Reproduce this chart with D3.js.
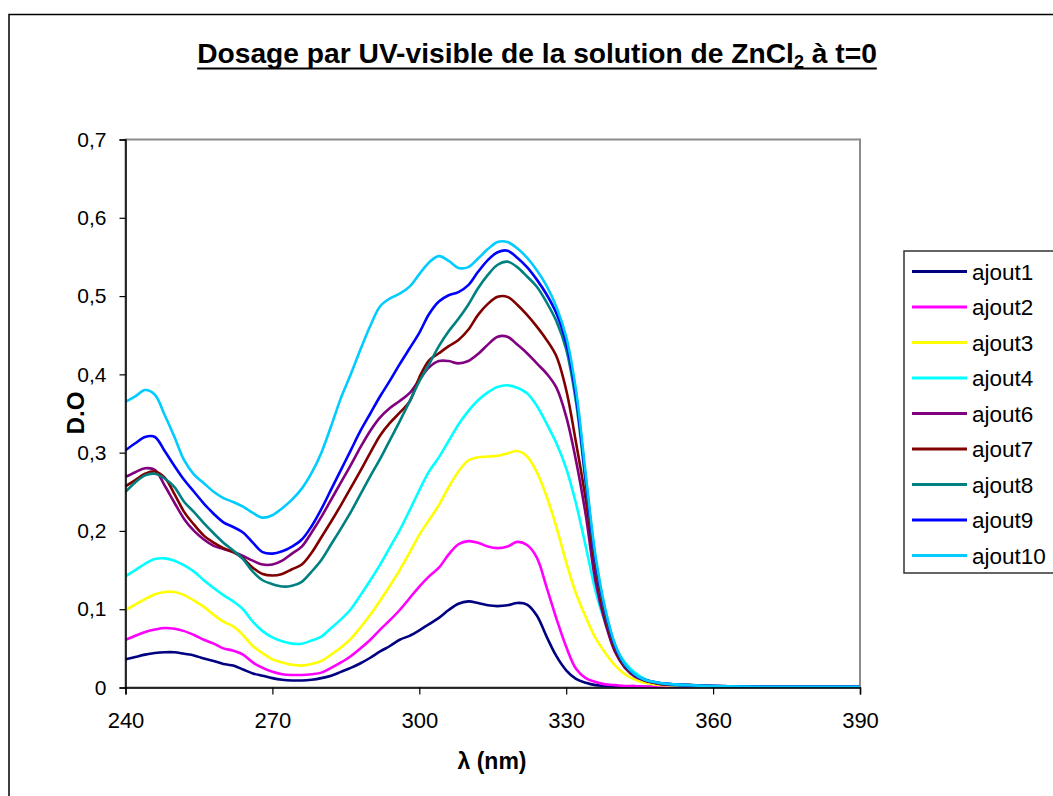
<!DOCTYPE html>
<html>
<head>
<meta charset="utf-8">
<script src="https://cdn.jsdelivr.net/npm/d3@7"></script>
<style>
  html, body { margin: 0; padding: 0; background: #fff; }
  svg { display: block; }
  text { font-family: "Liberation Sans", Arial, sans-serif; }
</style>
</head>
<body>
<svg id="chart" width="1053" height="796"></svg>
<script>
// Wavelengths (nm)
const wavelengths = [240,242,244,246,248,250,252,254,256,258,
  260,262,264,266,268,270,272,274,276,278,
  280,282,284,286,288,290,292,294,296,298,
  300,302,304,306,308,310,312,314,316,318,
  320,322,324,326,328,330,332,334,336,338,
  340,342,344,346,348,350,355,360,370,380,390];

const ajout1 = [.036,.039,.042,.044,.045,.045,.043,.041,.037,.034,
  .030,.028,.023,.018,.015,.012,.010,.009,.009,.010,
  .012,.015,.020,.025,.031,.038,.046,.053,.061,.066,
  .073,.081,.089,.099,.107,.110,.108,.105,.104,.105,
  .108,.106,.092,.065,.040,.022,.011,.006,.003,.002,
  .001,.001,.001,.001,.001,.001,.001,.001,.001,.001,.001];

const ajout2 = [.061,.066,.071,.074,.076,.075,.072,.067,.061,.056,
  .050,.047,.042,.032,.025,.020,.017,.016,.016,.017,
  .019,.025,.032,.040,.050,.061,.074,.086,.099,.114,
  .129,.142,.153,.170,.183,.187,.185,.180,.178,.180,
  .186,.182,.166,.128,.088,.052,.024,.012,.007,.004,
  .003,.002,.002,.001,.001,.001,.001,.001,.001,.001,.001];

const ajout3 = [.099,.106,.113,.119,.122,.122,.118,.111,.103,.093,
  .084,.078,.067,.053,.044,.036,.032,.029,.028,.030,
  .034,.042,.051,.062,.077,.093,.111,.130,.150,.172,
  .195,.214,.233,.256,.276,.290,.294,.295,.296,.299,
  .302,.295,.275,.244,.205,.160,.120,.090,.063,.044,
  .028,.017,.010,.006,.004,.003,.002,.001,.001,.001,.001];

const ajout4 = [.142,.150,.158,.164,.165,.162,.156,.148,.137,.127,
  .118,.110,.100,.084,.072,.064,.059,.056,.056,.060,
  .065,.076,.087,.100,.118,.137,.157,.179,.201,.226,
  .252,.276,.294,.315,.336,.353,.367,.377,.384,.386,
  .383,.376,.360,.337,.312,.280,.235,.180,.123,.082,
  .052,.032,.019,.011,.006,.004,.002,.001,.001,.001,.001];

const ajout6 = [.269,.275,.280,.278,.258,.236,.215,.200,.189,.181,
  .177,.173,.168,.162,.157,.157,.162,.171,.180,.198,
  .218,.240,.262,.284,.307,.328,.345,.357,.366,.376,
  .393,.409,.417,.417,.414,.417,.426,.438,.448,.448,
  .438,.427,.414,.401,.383,.346,.290,.220,.135,.082,
  .045,.025,.014,.009,.006,.004,.003,.002,.001,.001,.001];

const ajout7 = [.257,.265,.273,.276,.268,.247,.224,.208,.194,.185,
  .178,.173,.165,.153,.145,.143,.145,.151,.157,.172,
  .192,.212,.233,.255,.277,.300,.322,.338,.351,.365,
  .396,.418,.427,.436,.444,.457,.476,.490,.499,.499,
  .489,.476,.461,.444,.423,.380,.313,.240,.150,.088,
  .048,.026,.015,.009,.006,.004,.003,.002,.001,.001,.001];

const ajout8 = [.250,.262,.271,.273,.267,.256,.237,.224,.210,.197,
  .185,.175,.164,.148,.137,.132,.129,.130,.135,.148,
  .163,.183,.203,.224,.247,.270,.292,.316,.340,.365,
  .391,.413,.436,.455,.471,.489,.510,.527,.540,.544,
  .537,.525,.512,.492,.468,.432,.365,.260,.160,.094,
  .052,.028,.016,.010,.007,.005,.003,.002,.001,.001,.001];

const ajout9 = [.303,.312,.320,.320,.302,.283,.265,.250,.235,.222,
  .211,.205,.198,.185,.173,.171,.174,.180,.189,.206,
  .228,.253,.278,.303,.328,.350,.372,.392,.413,.433,
  .453,.477,.493,.501,.505,.514,.531,.546,.556,.558,
  .549,.537,.521,.502,.478,.440,.373,.266,.163,.097,
  .053,.029,.016,.010,.007,.005,.003,.002,.001,.001,.001];

const ajout10 = [.365,.372,.380,.374,.348,.320,.290,.272,.261,.250,
  .242,.237,.231,.223,.217,.220,.229,.240,.254,.274,
  .300,.334,.370,.400,.432,.462,.487,.497,.503,.512,
  .528,.543,.551,.545,.536,.537,.548,.560,.569,.569,
  .561,.549,.533,.513,.486,.448,.380,.272,.168,.100,
  .055,.030,.017,.010,.007,.005,.003,.002,.001,.001,.001];

const seriesNames = ["ajout1","ajout2","ajout3","ajout4","ajout6","ajout7","ajout8","ajout9","ajout10"];
const seriesValues = [ajout1, ajout2, ajout3, ajout4, ajout6, ajout7, ajout8, ajout9, ajout10];
const seriesColors = ["#000080","#FF00FF","#FFFF00","#00FFFF","#800080","#800000","#008080","#0000FF","#00CCFF"];

const xTicks = [240,270,300,330,360,390];
const yTicks = [0,0.1,0.2,0.3,0.4,0.5,0.6,0.7];

(function draw() {
const svg = d3.select("#chart");
const pLeft = 125.5, pRight = 860, pTop = 139.5, pBottom = 687.5;

const x = d3.scaleLinear().domain([240, 390]).range([pLeft, pRight]);
const y = d3.scaleLinear().domain([0, 0.7]).range([pBottom, pTop]);

// Outer frame
svg.append("path")
  .attr("d", `M9,800 L9,14.5 L1060,14.5`)
  .attr("fill", "none").attr("stroke", "#000").attr("stroke-width", 1.5);

// Plot area border (gray)
svg.append("rect")
  .attr("x", pLeft).attr("y", pTop)
  .attr("width", pRight - pLeft).attr("height", pBottom - pTop)
  .attr("fill", "none").attr("stroke", "#8c8c8c").attr("stroke-width", 2);

// Title
const title = svg.append("text")
  .attr("x", 537).attr("y", 63)
  .attr("text-anchor", "middle")
  .attr("font-weight", "bold")
  .attr("font-size", 28.2)
  .attr("fill", "#000");
title.append("tspan").text("Dosage par UV-visible de la solution de ZnCl");
title.append("tspan").attr("font-size", 18).attr("dy", 5).text("2");
title.append("tspan").attr("dy", -5).text(" à t=0");
const tb = title.node().getBBox();
svg.append("line")
  .attr("x1", tb.x).attr("x2", tb.x + tb.width)
  .attr("y1", 68.5).attr("y2", 68.5)
  .attr("stroke", "#000").attr("stroke-width", 2);

// Clip
svg.append("defs").append("clipPath").attr("id", "clip")
  .append("rect").attr("x", pLeft).attr("y", pTop - 2)
  .attr("width", pRight - pLeft).attr("height", pBottom - pTop + 2);

// Lines
const line = d3.line()
  .x((d, i) => x(wavelengths[i]))
  .y(d => y(d))
  .curve(d3.curveCatmullRom.alpha(0.5));

const g = svg.append("g").attr("clip-path", "url(#clip)");
seriesValues.forEach((vals, k) => {
  g.append("path")
    .datum(vals)
    .attr("d", line)
    .attr("fill", "none")
    .attr("stroke", seriesColors[k])
    .attr("stroke-width", 2.6)
    .attr("stroke-linejoin", "round");
});

// Axes
const yAxis = d3.axisLeft(y).tickValues(yTicks).tickSize(6).tickPadding(13)
  .tickFormat(d => d === 0 ? "0" : d3.format(".1f")(d).replace(".", ","));
const gy = svg.append("g").attr("transform", `translate(${pLeft},0)`).call(yAxis);
gy.select(".domain").attr("stroke", "#000").attr("stroke-width", 1.5);
gy.selectAll(".tick line").attr("stroke", "#000").attr("stroke-width", 1.2);
gy.selectAll(".tick text").attr("font-size", 21).attr("fill", "#000")
  .attr("font-family", "'Liberation Sans', Arial, sans-serif");

const xAxis = d3.axisBottom(x).tickValues(xTicks).tickSize(7).tickPadding(18)
  .tickFormat(d3.format("d"));
const gx = svg.append("g").attr("transform", `translate(0,${pBottom})`).call(xAxis);
gx.select(".domain").attr("stroke", "#000").attr("stroke-width", 1.5);
gx.selectAll(".tick line").attr("stroke", "#000").attr("stroke-width", 1.2);
gx.selectAll(".tick text").attr("font-size", 22).attr("fill", "#000")
  .attr("font-family", "'Liberation Sans', Arial, sans-serif");

// Axis titles
svg.append("text")
  .attr("transform", "translate(84,413) rotate(-90)")
  .attr("text-anchor", "middle")
  .attr("font-weight", "bold").attr("font-size", 24)
  .text("D.O");
svg.append("text")
  .attr("x", 492).attr("y", 769)
  .attr("text-anchor", "middle")
  .attr("font-weight", "bold").attr("font-size", 23)
  .text("λ (nm)");

// Legend
const lg = svg.append("g");
lg.append("rect")
  .attr("x", 904).attr("y", 251)
  .attr("width", 170).attr("height", 322)
  .attr("fill", "#fff").attr("stroke", "#333").attr("stroke-width", 1.5);
seriesNames.forEach((name, k) => {
  const yy = 271.5 + k * 35.5;
  lg.append("line")
    .attr("x1", 912).attr("x2", 967)
    .attr("y1", yy).attr("y2", yy)
    .attr("stroke", seriesColors[k]).attr("stroke-width", 3);
  lg.append("text")
    .attr("x", 972).attr("y", yy + 8)
    .attr("font-size", 22.5).attr("fill", "#000")
    .text(name);
});
})();
</script>
</body>
</html>
